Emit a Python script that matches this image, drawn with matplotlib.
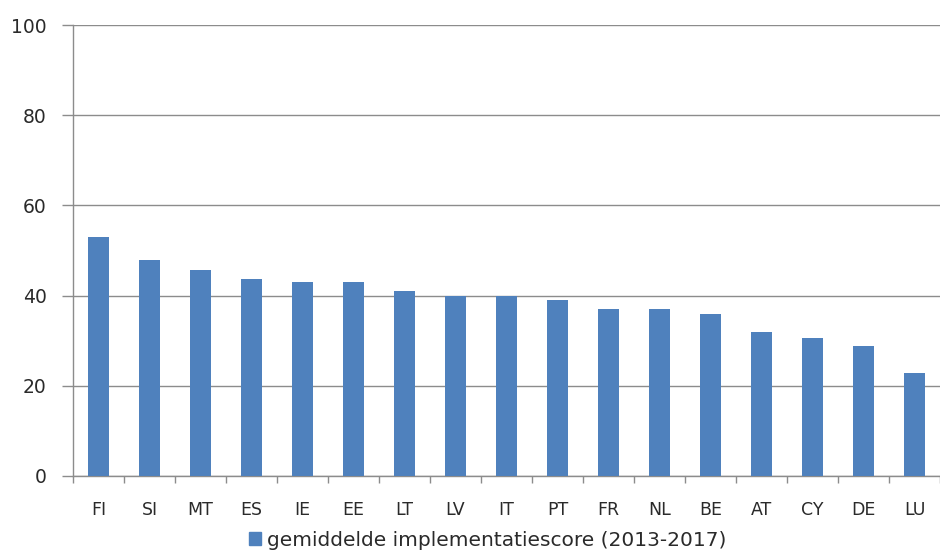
import matplotlib
matplotlib.use("Agg")
import matplotlib.pyplot as plt
import numpy as np
from matplotlib.patches import Patch

countries = ["FI", "SI", "MT", "ES", "IE", "EE", "LT", "LV", "IT", "PT", "FR", "NL", "BE", "AT", "CY", "DE", "LU"]
scores = [53, 48, 45.7, 43.7, 43, 43, 41, 40, 40, 39, 37, 37, 36, 32, 30.7, 28.8, 22.8]
series_name = "gemiddelde implementatiescore (2013-2017)"
yticks = [0, 20, 40, 60, 80, 100]

plt.rcParams['font.family'] = ['DejaVu Sans']
fig = plt.figure(figsize=(9.4, 5.56), dpi=100)
ax = fig.add_axes([0.0777, 0.1439, 0.9223, 0.811])

color = "#4F81BD"
x = np.arange(len(countries))
ax.bar(x, scores, width=0.4, color=color, zorder=3)
ax.set_xlim(-0.5, len(countries) - 0.5)
ax.set_ylim(0, 100)
ax.set_yticks(yticks)
ax.set_yticklabels([str(v) for v in yticks], fontsize=13.5, color="#2a2a2a")
ax.yaxis.grid(True, color="#8c8c8c", linewidth=1.0, zorder=0)
ax.tick_params(axis='y', length=8, color="#8c8c8c", width=1.0, pad=11)

ax.set_xticks(x)
ax.set_xticklabels(countries, fontsize=12.5, color="#2a2a2a")
ax.set_xticks(np.arange(len(countries) + 1) - 0.5, minor=True)
ax.tick_params(axis='x', which='major', length=0, pad=18)
ax.tick_params(axis='x', which='minor', length=5, color="#8c8c8c", width=1.0)

for s in ["top", "right"]:
    ax.spines[s].set_visible(False)
for s in ["left", "bottom"]:
    ax.spines[s].set_color("#8c8c8c")
    ax.spines[s].set_linewidth(1.0)

fig.legend(handles=[Patch(color=color)], labels=[series_name], loc='center',
           bbox_to_anchor=(0.519, 0.028), frameon=False, fontsize=14.5,
           handlelength=0.6, handleheight=0.6, handletextpad=0.3,
           labelcolor="#2a2a2a", borderpad=0.1)

fig.savefig("out.png", dpi=100)
